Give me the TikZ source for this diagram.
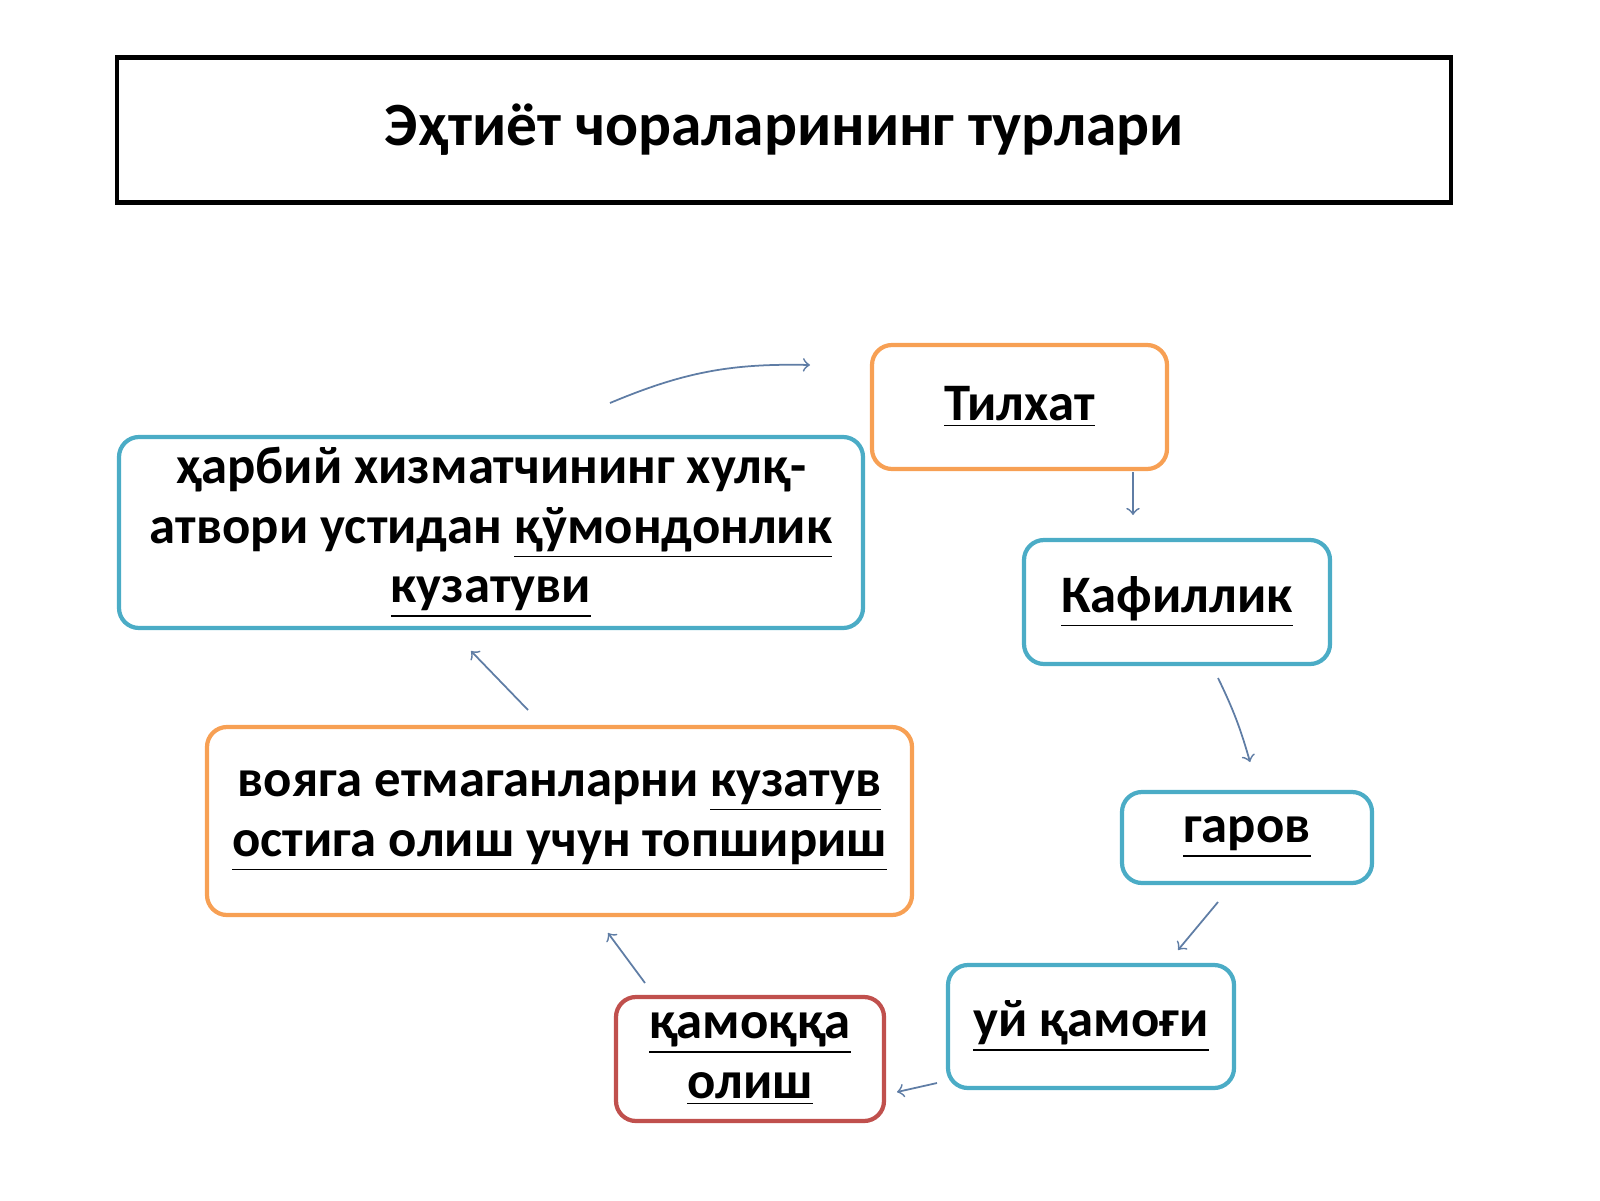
\documentclass[tikz,border=0pt]{standalone}
\usepackage{fontspec}
\setmainfont{Carlito}
\usetikzlibrary{positioning}
\definecolor{borange}{RGB}{247,160,84}
\definecolor{bteal}{RGB}{75,172,198}
\definecolor{bred}{RGB}{192,80,77}
\definecolor{arrowc}{RGB}{95,125,165}
\tikzset{>=to}
\tikzset{
  item/.style={draw, line width=1.2pt, rounded corners=0.2cm, align=center,
    font=\fontsize{15}{17}\selectfont\bfseries, inner sep=0pt},
  link/.style={->, arrowc, line width=0.5pt}
}
\begin{document}
\begin{tikzpicture}
  \useasboundingbox (0,0) rectangle (16,12);
  \node[draw, line width=1.4pt, minimum width=13.34cm, minimum height=1.45cm,
    font=\fontsize{17.5}{20}\selectfont\bfseries] (title) at (7.84,10.7) {Эҳтиёт чораларининг турлари};
  \node[item, borange, minimum width=2.95cm, minimum height=1.24cm, text=black] (tilxat) at (10.195,7.93) {\underline{Тилхат}};
  \node[item, bteal, minimum width=3.06cm, minimum height=1.24cm, text=black] (kafil) at (11.77,5.98) {\underline{Кафиллик}};
  \node[item, bteal, minimum width=2.5cm, minimum height=0.91cm, text=black] (garov) at (12.47,3.625) {\underline{гаров}};
  \node[item, bteal, minimum width=2.86cm, minimum height=1.23cm, text=black] (uy) at (10.91,1.735) {\underline{уй қамоғи}};
  \node[item, bred, minimum width=2.68cm, minimum height=1.24cm, text=black] (qamoq) at (7.5,1.41) {\underline{қамоққа}\\\underline{олиш}};
  \node[item, borange, minimum width=7.05cm, minimum height=1.88cm, text=black] (voyaga) at (5.595,3.79) {вояга етмаганларни \underline{кузатув}\\\underline{остига олиш учун топшириш}};
  \node[item, bteal, minimum width=7.44cm, minimum height=1.91cm, text=black] (harbiy) at (4.91,6.675) {ҳарбий хизматчининг хулқ-\\атвори устидан \underline{қўмондонлик}\\\underline{кузатуви}};
  % arrows between boxes
  \coordinate (a1) at (6.1,7.97); \coordinate (b1) at (8.1,8.35);
  \coordinate (a2) at (11.33,7.28); \coordinate (b2) at (11.33,6.85);
  \coordinate (a3) at (12.18,5.22); \coordinate (b3) at (12.5,4.38);
  \coordinate (a4) at (12.18,2.98); \coordinate (b4) at (11.78,2.5);
  \coordinate (a5) at (9.37,1.17); \coordinate (b5) at (8.97,1.08);
  \coordinate (a6) at (6.45,2.17); \coordinate (b6) at (6.08,2.67);
  \coordinate (a7) at (5.28,4.9); \coordinate (b7) at (4.71,5.49);
  \draw[link] (a1) to[bend left=12] (b1);
  \draw[link] (a2) -- (b2);
  \draw[link] (a3) to[bend left=5] (b3);
  \draw[link] (a4) -- (b4);
  \draw[link] (a5) -- (b5);
  \draw[link] (a6) -- (b6);
  \draw[link] (a7) -- (b7);
\end{tikzpicture}
\end{document}
